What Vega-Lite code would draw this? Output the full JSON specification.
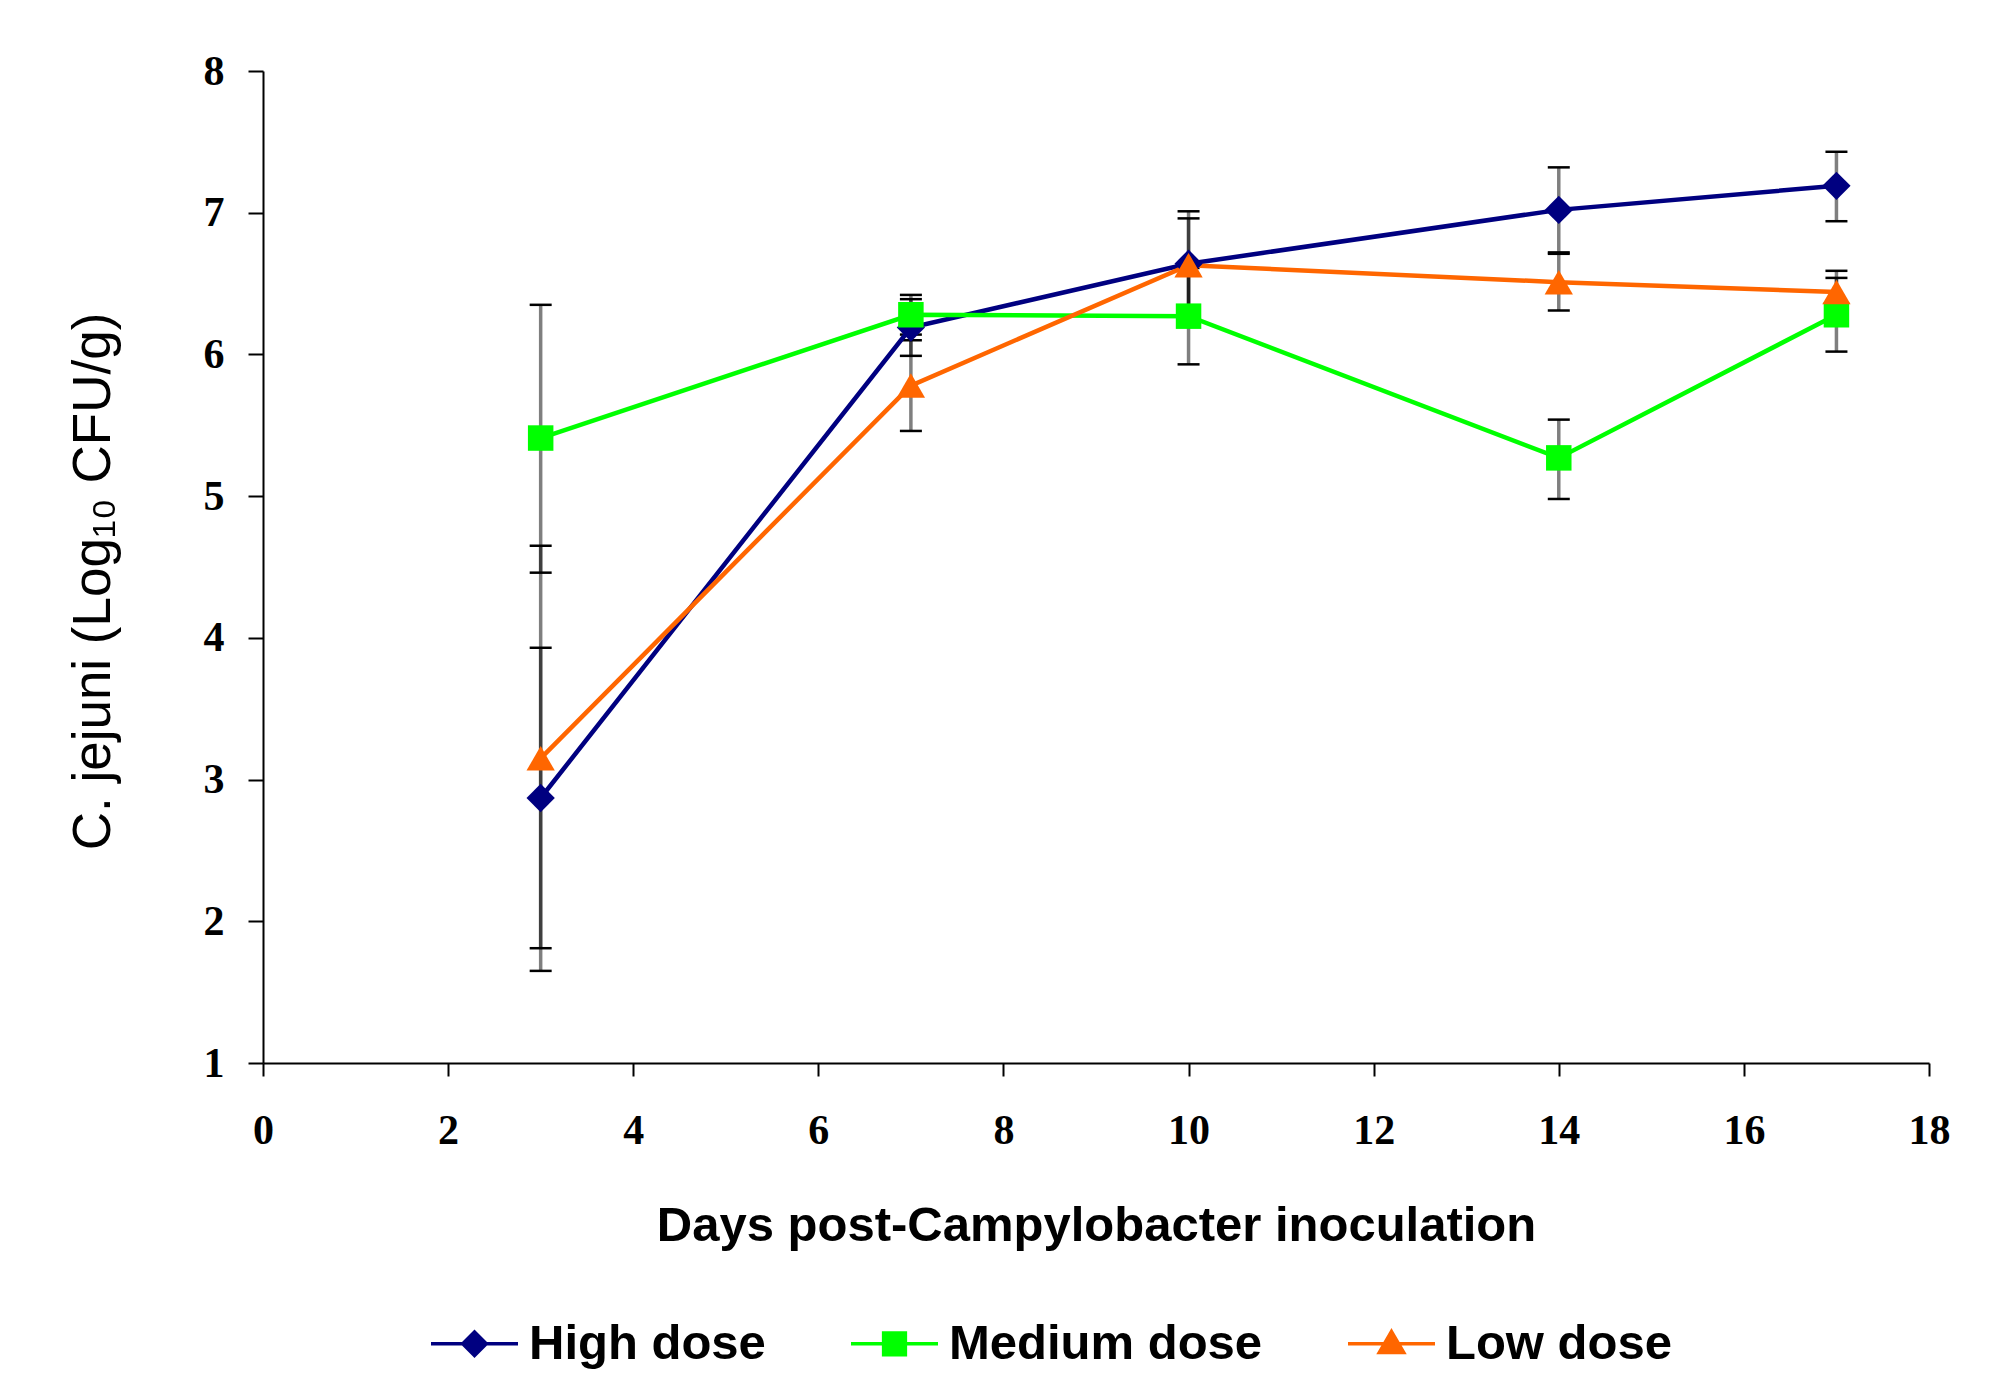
{
  "$schema": "https://vega.github.io/schema/vega-lite/v6.json",
  "autosize": "none",
  "width": 1666,
  "height": 992,
  "padding": {"left": 263, "top": 71, "right": 79, "bottom": 317},
  "background": "white",
  "config": {
    "view": {"stroke": null},
    "axis": {
      "domainColor": "black",
      "domainWidth": 2,
      "tickColor": "black",
      "tickWidth": 2,
      "grid": false,
      "labelFont": "Liberation Serif",
      "labelFontWeight": "bold",
      "labelFontSize": 42,
      "labelColor": "black",
      "titleColor": "black",
      "titleFont": "Liberation Sans"
    },
    "legend": {
      "title": null,
      "orient": "none",
      "legendX": 166,
      "legendY": 1227,
      "direction": "horizontal",
      "columns": 3,
      "columnPadding": 78,
      "symbolSize": 7569,
      "symbolStrokeWidth": 3.5,
      "symbolOpacity": 1,
      "labelOffset": 9,
      "labelFont": "Liberation Sans",
      "labelFontWeight": "bold",
      "labelFontSize": 49,
      "labelColor": "black",
      "labelLimit": 0
    }
  },
  "data": {
    "values": [
      {"series": "High dose", "day": 3, "mean": 2.87, "lo": 1.81, "hi": 3.93},
      {"series": "High dose", "day": 7, "mean": 6.19, "lo": 5.99, "hi": 6.39},
      {"series": "High dose", "day": 10, "mean": 6.64, "lo": 6.27, "hi": 7.01},
      {"series": "High dose", "day": 14, "mean": 7.02, "lo": 6.72, "hi": 7.32},
      {"series": "High dose", "day": 17, "mean": 7.19, "lo": 6.94, "hi": 7.43},
      {"series": "Medium dose", "day": 3, "mean": 5.41, "lo": 4.46, "hi": 6.35},
      {"series": "Medium dose", "day": 7, "mean": 6.28, "lo": 6.14, "hi": 6.42},
      {"series": "Medium dose", "day": 10, "mean": 6.27, "lo": 5.93, "hi": 6.61},
      {"series": "Medium dose", "day": 14, "mean": 5.27, "lo": 4.98, "hi": 5.54},
      {"series": "Medium dose", "day": 17, "mean": 6.28, "lo": 6.02, "hi": 6.54},
      {"series": "Low dose", "day": 3, "mean": 3.15, "lo": 1.65, "hi": 4.65},
      {"series": "Low dose", "day": 7, "mean": 5.78, "lo": 5.46, "hi": 6.1},
      {"series": "Low dose", "day": 10, "mean": 6.63, "lo": 6.3, "hi": 6.96},
      {"series": "Low dose", "day": 14, "mean": 6.51, "lo": 6.31, "hi": 6.71},
      {"series": "Low dose", "day": 17, "mean": 6.44, "lo": 6.29, "hi": 6.59}
    ]
  },
  "encoding": {
    "x": {
      "field": "day",
      "type": "quantitative",
      "scale": {"domain": [0, 18], "nice": false, "zero": false},
      "axis": {
        "values": [0, 2, 4, 6, 8, 10, 12, 14, 16, 18],
        "format": "d",
        "tickSize": 13,
        "labelPadding": 34,
        "labelFlush": false,
        "title": "Days post-Campylobacter inoculation",
        "titleFontSize": 49,
        "titleFontWeight": "bold",
        "titlePadding": 50
      }
    }
  },
  "layer": [
    {
      "mark": {"type": "rule", "color": "black", "opacity": 0.5, "strokeWidth": 3.5},
      "encoding": {
        "y": {
          "field": "lo",
          "type": "quantitative",
          "scale": {"domain": [1, 8], "nice": false, "zero": false},
          "axis": {
            "values": [1, 2, 3, 4, 5, 6, 7, 8],
            "format": "d",
            "tickSize": 15,
            "labelPadding": 24,
            "title": "C. jejuni (Log₁₀ CFU/g)",
            "titleFontSize": 53,
            "titleFontWeight": "normal",
            "titlePadding": 83,
            "titleY": 510
          }
        },
        "y2": {"field": "hi"}
      }
    },
    {
      "mark": {"type": "rule", "color": "black", "strokeWidth": 2.5, "xOffset": -11, "x2Offset": 11},
      "encoding": {
        "x2": {"field": "day"},
        "y": {"field": "lo", "type": "quantitative"}
      }
    },
    {
      "mark": {"type": "rule", "color": "black", "strokeWidth": 2.5, "xOffset": -11, "x2Offset": 11},
      "encoding": {
        "x2": {"field": "day"},
        "y": {"field": "hi", "type": "quantitative"}
      }
    },
    {
      "mark": {"type": "line", "strokeWidth": 4.5},
      "encoding": {
        "y": {"field": "mean", "type": "quantitative"},
        "color": {
          "field": "series",
          "type": "nominal",
          "scale": {"domain": ["High dose", "Medium dose", "Low dose"], "range": ["#000080", "#00FF00", "#FF6600"]},
          "legend": {
            "symbolType": "M-1,0H1M0,-0.27L0.27,0L0,0.27L-0.27,0Z",
            "encode": {
              "symbols": {
                "update": {
                  "shape": {"signal": "datum.value === 'High dose' ? 'M-1,0H1M0,-0.27L0.27,0L0,0.27L-0.27,0Z' : datum.value === 'Medium dose' ? 'M-1,0H1M-0.25,-0.25H0.25V0.25H-0.25Z' : 'M-1,0H1M0,-0.28L0.28,0.2H-0.28Z'"},
                  "fill": {"scale": "color", "field": "value"},
                  "stroke": {"scale": "color", "field": "value"},
                  "strokeWidth": {"value": 3.5}
                }
              }
            }
          }
        }
      }
    },
    {
      "transform": [{"filter": "datum.series === 'High dose'"}],
      "mark": {"type": "point", "filled": true, "opacity": 1, "size": 800, "shape": "diamond", "color": "#000080"},
      "encoding": {"y": {"field": "mean", "type": "quantitative"}}
    },
    {
      "transform": [{"filter": "datum.series === 'Medium dose'"}],
      "mark": {"type": "point", "filled": true, "opacity": 1, "size": 650, "shape": "square", "color": "#00FF00"},
      "encoding": {"y": {"field": "mean", "type": "quantitative"}}
    },
    {
      "transform": [{"filter": "datum.series === 'Low dose'"}],
      "mark": {"type": "point", "filled": true, "opacity": 1, "size": 800, "shape": "triangle-up", "color": "#FF6600"},
      "encoding": {"y": {"field": "mean", "type": "quantitative"}}
    }
  ]
}
